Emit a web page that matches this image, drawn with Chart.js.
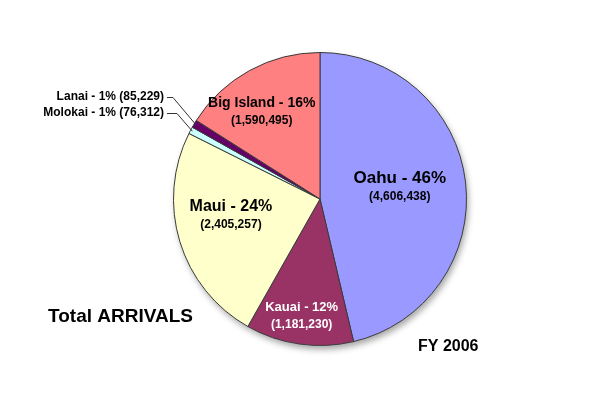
<!DOCTYPE html>
<html>
<head>
<meta charset="utf-8">
<script src="https://cdn.jsdelivr.net/npm/chart.js@4/dist/chart.umd.min.js"></script>
<style>
  html, body { margin: 0; padding: 0; background: #fff; }
  #wrap { position: relative; width: 600px; height: 401px; }
</style>
</head>
<body>
<div id="wrap"><canvas id="pie" width="600" height="401"></canvas></div>
<script>
// Island names, percentages shown in labels, and arrival counts
const islands = ['Oahu', 'Kauai', 'Maui', 'Molokai', 'Lanai', 'Big Island'];
const percents = ['46%', '12%', '24%', '1%', '1%', '16%'];
const arrivals = [4606438, 1181230, 2405257, 76312, 85229, 1590495];
const sliceColors = ['#9999ff', '#993366', '#ffffcc', '#ccffff', '#660066', '#ff8080'];

const titleText = 'Total ARRIVALS';
const yearText = 'FY 2006';

function fmt(n) {
    return n.toLocaleString('en-US');
}

// Label style for each slice: [offset x, offset y, title size, sub size, line gap, colour]
const labelStyle = {
    Oahu: [7, -12, 17, 12, 18, '#000'],
    Kauai: [-8, 36, 13, 12, 17, '#fff'],
    Maui: [-19, -14, 16, 12, 18, '#000'],
    'Big Island': [-23, -32, 14, 12, 18, '#000']
};

// Soft shadow under the pie
const shadowPlugin = {
    id: 'shadow',
    beforeDatasetsDraw(chart) {
        const arc = chart.getDatasetMeta(0).data[0];
        const ctx = chart.ctx;
        ctx.save();
        ctx.shadowColor = 'rgba(0,0,0,0.35)';
        ctx.shadowBlur = 6;
        ctx.shadowOffsetX = 2;
        ctx.shadowOffsetY = 4;
        ctx.fillStyle = '#fff';
        ctx.beginPath();
        ctx.arc(arc.x, arc.y, arc.outerRadius, 0, Math.PI * 2);
        ctx.fill();
        ctx.restore();
    }
};

// Slice labels, inside for big slices and with leader lines for small ones
const labelPlugin = {
    id: 'sliceLabels',
    afterDatasetsDraw(chart) {
        const ctx = chart.ctx;
        const meta = chart.getDatasetMeta(0);
        ctx.save();
        ctx.textAlign = 'center';
        ctx.textBaseline = 'middle';
        meta.data.forEach((arc, i) => {
            const name = islands[i];
            const st = labelStyle[name];
            if (st) {
                const p = arc.tooltipPosition();
                const x = p.x + st[0];
                const y = p.y + st[1];
                ctx.fillStyle = st[5];
                ctx.font = 'bold ' + st[2] + 'px Arial, "Liberation Sans", sans-serif';
                ctx.fillText(name + ' - ' + percents[i], x, y);
                ctx.font = 'bold ' + st[3] + 'px Arial, "Liberation Sans", sans-serif';
                ctx.fillText('(' + fmt(arrivals[i]) + ')', x, y + st[4]);
            }
        });

        // small slices: Lanai above, Molokai below
        const small = [[4, -102, 6], [3, -86, 10]];
        ctx.textAlign = 'right';
        ctx.font = 'bold 12px Arial, "Liberation Sans", sans-serif';
        small.forEach(([i, dy, run]) => {
            const arc = meta.data[i];
            const mid = (arc.startAngle + arc.endAngle) / 2;
            const ex = arc.x + Math.cos(mid) * (arc.outerRadius - 2);
            const ey = arc.y + Math.sin(mid) * (arc.outerRadius - 2);
            const ty = arc.y + dy;
            const tx = 164;
            ctx.strokeStyle = '#333';
            ctx.lineWidth = 1;
            ctx.beginPath();
            ctx.moveTo(tx + 3, ty + 0.5);
            ctx.lineTo(tx + 3 + run, ty + 0.5);
            ctx.lineTo(ex, ey);
            ctx.stroke();
            ctx.fillStyle = '#000';
            ctx.fillText(islands[i] + ' - ' + percents[i] + ' (' + fmt(arrivals[i]) + ')', tx, ty);
        });

        ctx.textAlign = 'left';
        ctx.font = 'bold 19px Arial, "Liberation Sans", sans-serif';
        ctx.fillText(titleText, 48, 317);
        ctx.font = 'bold 16px Arial, "Liberation Sans", sans-serif';
        ctx.fillText(yearText, 418, 347);
        ctx.restore();
    }
};

new Chart(document.getElementById('pie'), {
    type: 'pie',
    data: {
        labels: islands,
        datasets: [{
            data: arrivals,
            backgroundColor: sliceColors,
            borderColor: '#3a3a3a',
            borderWidth: 1
        }]
    },
    options: {
        responsive: false,
        animation: false,
        layout: { padding: { left: 173, right: 133, top: 52, bottom: 55 } },
        plugins: {
            legend: { display: false },
            tooltip: { enabled: false }
        }
    },
    plugins: [shadowPlugin, labelPlugin]
});
</script>
</body>
</html>
